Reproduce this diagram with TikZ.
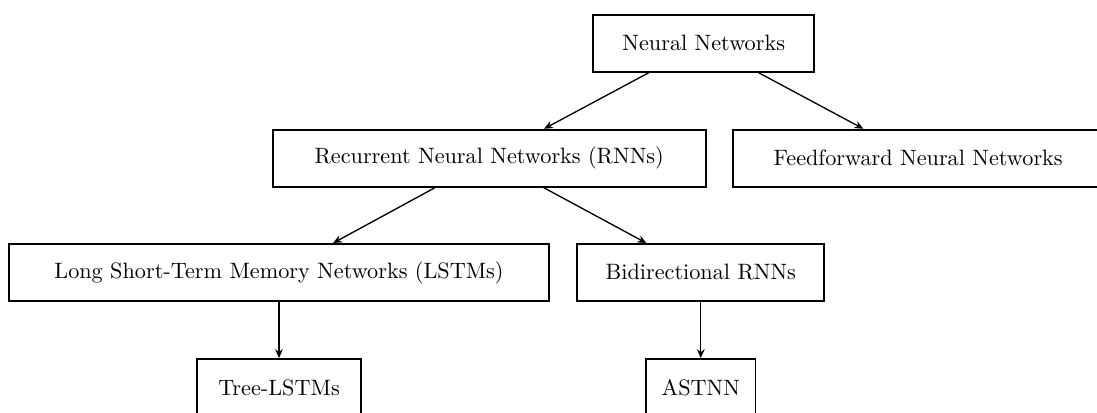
\documentclass[tikz,border=0pt]{standalone}
\usetikzlibrary{arrows.meta}
\tikzset{
  box/.style={draw, rectangle, line width=0.8pt, inner sep=0pt,
              minimum height=57*0.45pt},
  arr/.style={-{Stealth[length=4pt,width=3.4pt]}, line width=0.6pt}
}
\begin{document}
\begin{tikzpicture}[x=0.45pt, y=-0.45pt]
  \useasboundingbox (0,0) rectangle (1097,413);
  % root
  \node[box, minimum width=220.7*0.45pt] (nn) at (703.7,43.3) {Neural Networks};
  % second level
  \node[box, minimum width=433*0.45pt] (rnn) at (489.2,158.2) {Recurrent Neural Networks (RNNs)};
  \node[box, minimum width=369.8*0.45pt] (ff) at (918.2,158.2) {Feedforward Neural Networks};
  % third level
  \node[box, minimum width=539.4*0.45pt] (lstm) at (279,272.5) {Long Short-Term Memory Networks (LSTMs)};
  \node[box, minimum width=247*0.45pt] (bi) at (700.8,272.5) {Bidirectional RNNs};
  % leaves
  \node[box, minimum width=163.7*0.45pt] (tree) at (279,387.5) {Tree-LSTMs};
  \node[box, minimum width=109.3*0.45pt] (astnn) at (700.8,387.5) {ASTNN};
  % connectors
  \draw[arr] (nn) -- (rnn);
  \draw[arr] (nn) -- (ff);
  \draw[arr] (rnn) -- (lstm);
  \draw[arr] (rnn) -- (bi);
  \draw[arr] (lstm) -- (tree);
  \draw[arr] (bi) -- (astnn);
\end{tikzpicture}
\end{document}
